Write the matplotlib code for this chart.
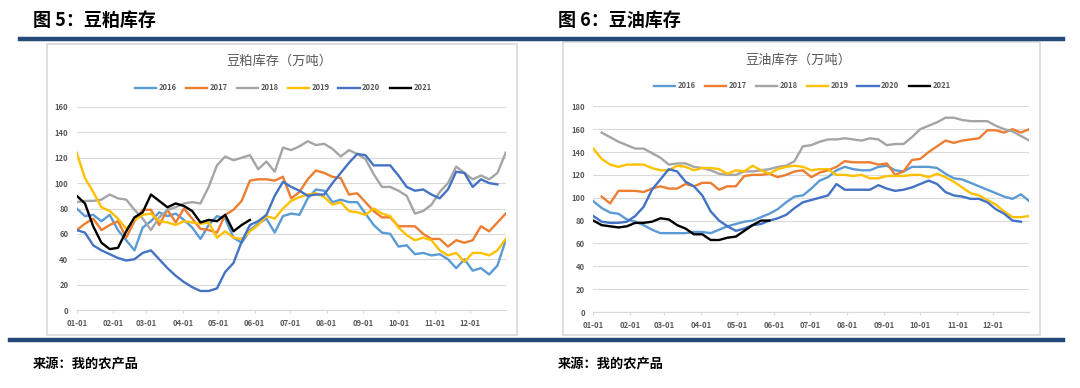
import numpy as np
import matplotlib.pyplot as plt
from matplotlib.patches import Rectangle
from matplotlib.lines import Line2D

plt.rcParams['font.family'] = ['Noto Sans CJK SC', 'DejaVu Sans']

# ---- data (weekly readings, 10k tonnes) ----
years = ['2016', '2017', '2018', '2019', '2020', '2021']
colors = ['#5B9BD5', '#ED7D31', '#A5A5A5', '#FFC000', '#4472C4', '#000000']
month_labels = ['01-01', '02-01', '03-01', '04-01', '05-01', '06-01',
                '07-01', '08-01', '09-01', '10-01', '11-01', '12-01']
month_days = [0, 31, 59, 90, 120, 151, 181, 212, 243, 273, 304, 334]

# soybean meal stocks
meal_2016 = [80, 74, 75, 70, 75, 63, 55, 47, 65, 70, 77, 74, 76, 71, 65, 56, 67, 74,
             72, 57, 53, 63, 68, 72, 61, 74, 76, 75, 88, 95, 94, 85, 87, 85, 85, 76,
             67, 61, 60, 50, 51, 44, 45, 43, 44, 40, 33, 40, 31, 33, 28, 35, 55]
meal_2017 = [63, 68, 72, 63, 67, 70, 57, 70, 79, 79, 67, 79, 69, 80, 72, 64, 63, 61,
             75, 79, 86, 102, 103, 103, 102, 105, 88, 93, 103, 110, 108, 105, 104, 91,
             92, 85, 78, 73, 73, 66, 66, 66, 60, 56, 56, 50, 55, 53, 55, 66, 62, 69, 76]
meal_2018 = [85, 86, 86, 87, 91, 88, 87, 79, 72, 63, 73, 79, 81, 84, 85, 84, 97, 114,
             121, 118, 120, 122, 111, 117, 109, 128, 126, 129, 133, 130, 131, 127, 121,
             126, 123, 119, 107, 97, 97, 94, 90, 76, 78, 83, 93, 100, 113, 108, 103,
             106, 103, 108, 124]
meal_2019 = [124, 104, 93, 81, 78, 72, 64, 71, 75, 76, 70, 69, 67, 70, 69, 68, 69, 57,
             62, 57, 56, 62, 67, 74, 72, 80, 86, 89, 91, 92, 89, 83, 85, 78, 77, 75, 80,
             76, 74, 65, 59, 55, 57, 55, 47, 43, 45, 38, 45, 45, 43, 47, 56]
meal_2020 = [63, 61, 51, 47, 44, 41, 39, 40, 45, 47, 40, 33, 27, 22, 18, 15, 15, 17,
             30, 37, 54, 67, 70, 75, 90, 101, 97, 94, 90, 91, 91, 100, 108, 116, 123,
             122, 114, 114, 114, 106, 97, 94, 95, 91, 88, 95, 109, 108, 97, 103, 100, 99]
meal_2021 = [90, 84, 66, 53, 48, 49, 62, 73, 77, 91, 86, 81, 84, 82, 78, 69, 71, 70,
             75, 62, 67, 71]

# soybean oil stocks
oil_2016 = [97, 91, 87, 86, 81, 79, 76, 72, 69, 69, 69, 69, 70, 70, 69, 72, 75, 77,
            79, 80, 83, 86, 90, 96, 101, 102, 108, 115, 118, 124, 127, 125, 124, 124,
            127, 128, 124, 123, 127, 127, 127, 126, 121, 117, 116, 113, 110, 107, 104,
            101, 99, 103, 97]
oil_2017 = [np.nan, 101, 95, 106, 106, 106, 105, 108, 110, 108, 108, 112, 110, 113,
            113, 107, 110, 110, 119, 120, 120, 121, 118, 120, 123, 124, 118, 122, 124,
            127, 132, 131, 131, 131, 129, 130, 120, 123, 133, 134, 140, 145, 150, 148,
            150, 151, 152, 159, 159, 157, 160, 157, 160]
oil_2018 = [np.nan, 157, 153, 149, 146, 143, 143, 139, 135, 129, 130, 130, 127, 126,
            124, 121, 120, 120, 123, 123, 124, 125, 127, 128, 132, 145, 146, 149, 151,
            151, 152, 151, 150, 152, 151, 146, 147, 147, 153, 160, 163, 166, 170, 170,
            168, 167, 167, 167, 163, 160, 158, 154, 150]
oil_2019 = [143, 134, 129, 127, 129, 129, 129, 126, 124, 124, 128, 127, 124, 126, 126,
            125, 121, 124, 123, 128, 124, 121, 125, 127, 128, 127, 124, 125, 125, 120,
            120, 119, 120, 117, 117, 119, 119, 119, 120, 120, 118, 121, 118, 114, 109,
            104, 102, 98, 94, 88, 83, 83, 84]
oil_2020 = [84, 79, 78, 78, 79, 84, 92, 107, 116, 125, 123, 114, 110, 102, 88, 80, 75,
            71, 73, 76, 77, 80, 82, 85, 91, 96, 98, 100, 102, 112, 107, 107, 107, 107,
            111, 108, 106, 107, 109, 112, 115, 112, 105, 102, 101, 99, 99, 96, 90, 86,
            80, 79]
oil_2021 = [80, 76, 75, 74, 75, 78, 78, 79, 82, 81, 76, 73, 68, 68, 63, 63, 65, 66,
            71, 76, 80, 80]

meal = [meal_2016, meal_2017, meal_2018, meal_2019, meal_2020, meal_2021]
oil = [oil_2016, oil_2017, oil_2018, oil_2019, oil_2020, oil_2021]

W, H = 1080, 388
fig = plt.figure(figsize=(W / 100, H / 100), dpi=100)


def fx(px):
    return px / W


def fy(py):
    return 1 - py / H


grey_txt = '#595959'
rule = '#244A7C'

# header / footer rules
fig.add_artist(Line2D([fx(20), fx(1063)], [fy(39), fy(39)], color=rule, lw=3.2))
fig.add_artist(Line2D([fx(10), fx(1063)], [fy(340), fy(340)], color=rule, lw=3.2))


def panel(series, ymax, ystep, header, title, box, axpx, title_x, title_y, leg_y, hx):
    fig.text(fx(hx), fy(20), header, fontsize=13, fontweight='bold',
             ha='left', va='center', color='black')
    fig.text(fx(hx), fy(364), '来源：我的农产品', fontsize=9.5, fontweight='bold',
             ha='left', va='center', color='black')
    x0, y0, x1, y1 = box
    fig.add_artist(Rectangle((fx(x0), fy(y1)), fx(x1 - x0), (y1 - y0) / H,
                             fill=False, ec='#D9D9D9', lw=1.2))
    l, r, b, t = axpx
    ax = fig.add_axes([fx(l), fy(b), fx(r - l), (b - t) / H])
    handles = []
    for vals, c, yr in zip(series, colors, years):
        days = np.arange(len(vals)) * 7
        h, = ax.plot(days, vals, color=c, lw=1.7, label=yr,
                     solid_joinstyle='round')
        handles.append(h)
    ax.set_xlim(0, 364)
    ax.set_ylim(0, ymax)
    ax.set_yticks(np.arange(0, ymax + 1, ystep))
    ax.set_xticks(month_days)
    ax.set_xticklabels(month_labels)
    ax.grid(axis='y', color='#D9D9D9', lw=0.8)
    ax.set_axisbelow(True)
    for s in ['top', 'right', 'left']:
        ax.spines[s].set_visible(False)
    ax.spines['bottom'].set_color('#D9D9D9')
    ax.spines['bottom'].set_linewidth(0.8)
    ax.tick_params(axis='y', length=0, pad=6, labelsize=5.5, labelcolor=grey_txt)
    ax.tick_params(axis='x', length=2.5, width=0.8, color='#D9D9D9', pad=4,
                   labelsize=5.5, labelcolor=grey_txt)
    for lab in ax.get_xticklabels() + ax.get_yticklabels():
        lab.set_fontweight('bold')
    ax.patch.set_alpha(0)
    fig.text(fx(title_x), fy(title_y), title, fontsize=9.5, color=grey_txt,
             ha='center', va='center')
    fig.legend(handles, years, loc='center', bbox_to_anchor=(fx(title_x + 4), fy(leg_y)),
               ncol=6, frameon=False, handlelength=2.8, handletextpad=0.3,
               columnspacing=1.2, prop={'size': 5.5, 'weight': 'bold'},
               labelcolor=grey_txt)


panel(meal, 160, 20, '图 5：豆粕库存', '豆粕库存（万吨）', (47, 44, 517, 335),
      (76.7, 505.7, 310, 107), 279, 61, 88, 33)
panel(oil, 180, 20, '图 6：豆油库存', '豆油库存（万吨）', (563, 42, 1040, 335),
      (593.3, 1029.3, 312, 106.3), 798, 60, 86, 558)

fig.savefig('out.png', dpi=100)
